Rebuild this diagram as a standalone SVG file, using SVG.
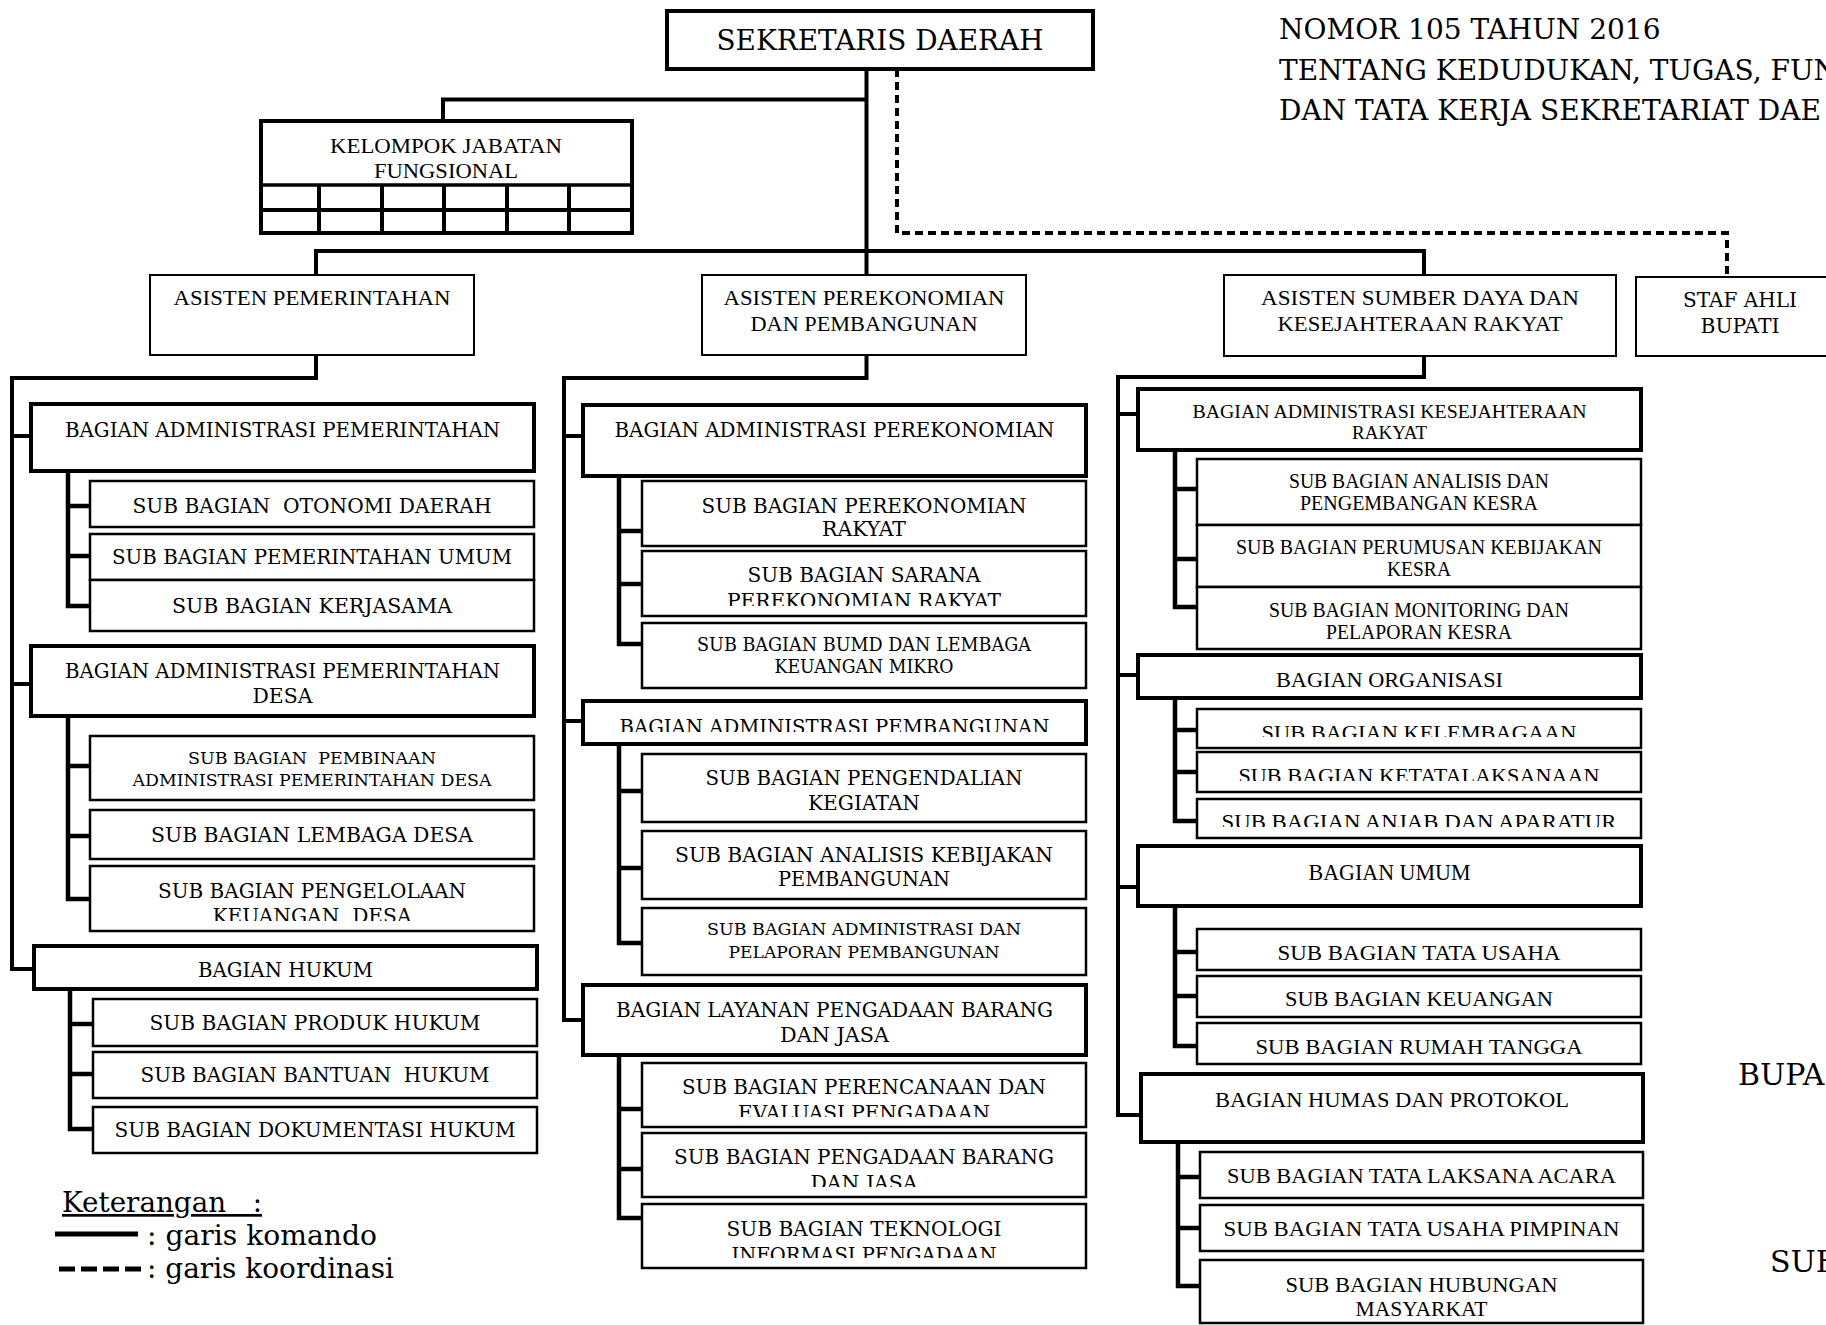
<svg xmlns="http://www.w3.org/2000/svg" width="1826" height="1325" viewBox="0 0 1826 1325">
<style>
.bg{fill:#fff}
.bk{fill:#fff;stroke:#000;stroke-width:4}
.sb{fill:#fff;stroke:#000;stroke-width:2.5}
.as{fill:#fff;stroke:#000;stroke-width:2}
.ln{fill:none;stroke:#000;stroke-width:4;stroke-linejoin:miter}
.sl{fill:none;stroke:#000;stroke-width:4.5;stroke-linejoin:miter}
.ds{fill:none;stroke:#000;stroke-width:4;stroke-dasharray:8 5}
.w{font-family:"DejaVu Serif",serif;fill:#000;text-anchor:middle}
.n{font-family:"Liberation Serif",serif;fill:#000;text-anchor:middle}
.s{text-anchor:start}
</style>
<defs>
<clipPath id="c921"><rect x="0" y="0" width="1826" height="921"/></clipPath>
<clipPath id="c606"><rect x="0" y="0" width="1826" height="606"/></clipPath>
<clipPath id="c732"><rect x="0" y="0" width="1826" height="732"/></clipPath>
<clipPath id="c1117"><rect x="0" y="0" width="1826" height="1117"/></clipPath>
<clipPath id="c1187"><rect x="0" y="0" width="1826" height="1187"/></clipPath>
<clipPath id="c1258"><rect x="0" y="0" width="1826" height="1258"/></clipPath>
<clipPath id="c737"><rect x="0" y="0" width="1826" height="737"/></clipPath>
<clipPath id="c781"><rect x="0" y="0" width="1826" height="781"/></clipPath>
<clipPath id="c827"><rect x="0" y="0" width="1826" height="827"/></clipPath>
</defs>
<rect class="bg" x="0" y="0" width="1826" height="1325"/>

<g id="connectors">
  <!-- top -->
  <polyline class="ln" points="866.5,69 866.5,275"/>
  <polyline class="ln" points="866.5,99.5 443,99.5 443,121"/>
  <polyline class="ln" points="316,275 316,251 1424,251 1424,275"/>
  <polyline class="ds" points="897,69 897,233 1727,233 1727,277"/>
  <!-- column 1 -->
  <polyline class="ln" points="316,355 316,378 12,378 12,969 34,969"/>
  <polyline class="ln" points="12,436 31,436"/>
  <polyline class="ln" points="12,684 31,684"/>
  <polyline class="sl" points="68,471 68,606 90,606"/>
  <polyline class="sl" points="68,506 90,506"/>
  <polyline class="sl" points="68,556 90,556"/>
  <polyline class="sl" points="68,716 68,899 90,899"/>
  <polyline class="sl" points="68,766 90,766"/>
  <polyline class="sl" points="68,836 90,836"/>
  <polyline class="sl" points="70,989 70,1129 93,1129"/>
  <polyline class="sl" points="70,1024 93,1024"/>
  <polyline class="sl" points="70,1074 93,1074"/>
  <!-- column 2 -->
  <polyline class="ln" points="866.5,355 866.5,378 564,378 564,1020 583,1020"/>
  <polyline class="ln" points="564,436 583,436"/>
  <polyline class="ln" points="564,721 583,721"/>
  <polyline class="sl" points="619,476 619,644 642,644"/>
  <polyline class="sl" points="619,531 642,531"/>
  <polyline class="sl" points="619,584 642,584"/>
  <polyline class="sl" points="619,744 619,943 642,943"/>
  <polyline class="sl" points="619,791 642,791"/>
  <polyline class="sl" points="619,868 642,868"/>
  <polyline class="sl" points="619,1055 619,1218 642,1218"/>
  <polyline class="sl" points="619,1109 642,1109"/>
  <polyline class="sl" points="619,1169 642,1169"/>
  <!-- column 3 -->
  <polyline class="ln" points="1424,356 1424,377 1118,377 1118,1115 1141,1115"/>
  <polyline class="ln" points="1118,414 1138,414"/>
  <polyline class="ln" points="1118,675 1138,675"/>
  <polyline class="ln" points="1118,887 1138,887"/>
  <polyline class="sl" points="1175,450 1175,607 1197,607"/>
  <polyline class="sl" points="1175,489 1197,489"/>
  <polyline class="sl" points="1175,559 1197,559"/>
  <polyline class="sl" points="1175,698 1175,821 1197,821"/>
  <polyline class="sl" points="1175,730 1197,730"/>
  <polyline class="sl" points="1175,772 1197,772"/>
  <polyline class="sl" points="1175,906 1175,1046 1197,1046"/>
  <polyline class="sl" points="1175,952 1197,952"/>
  <polyline class="sl" points="1175,996 1197,996"/>
  <polyline class="sl" points="1178,1142 1178,1286 1200,1286"/>
  <polyline class="sl" points="1178,1177 1200,1177"/>
  <polyline class="sl" points="1178,1228 1200,1228"/>
</g>

<g id="header">
  <text class="w s" x="1279" y="39" font-size="28">NOMOR 105 TAHUN 2016</text>
  <text class="w s" x="1279" y="80" font-size="28">TENTANG KEDUDUKAN, TUGAS, FUN</text>
  <text class="w s" x="1279" y="120" font-size="28">DAN TATA KERJA SEKRETARIAT DAE</text>
</g>

<g id="sekda">
  <rect class="bk" x="667" y="11" width="426" height="58"/>
  <text class="w" x="880" y="50" font-size="28" textLength="327" lengthAdjust="spacingAndGlyphs">SEKRETARIS DAERAH</text>
</g>

<g id="kelompok">
  <rect class="bk" x="261" y="121" width="371" height="112"/>
  <line x1="261" y1="185" x2="632" y2="185" stroke="#000" stroke-width="3.5"/>
  <line x1="261" y1="210" x2="632" y2="210" stroke="#000" stroke-width="4"/>
  <g stroke="#000" stroke-width="4">
    <line x1="319" y1="185" x2="319" y2="233"/>
    <line x1="382" y1="185" x2="382" y2="233"/>
    <line x1="444" y1="185" x2="444" y2="233"/>
    <line x1="507" y1="185" x2="507" y2="233"/>
    <line x1="569" y1="185" x2="569" y2="233"/>
  </g>
  <text class="n" x="446" y="153" font-size="21" textLength="232" lengthAdjust="spacingAndGlyphs">KELOMPOK JABATAN</text>
  <text class="n" x="446" y="178" font-size="21" textLength="144" lengthAdjust="spacingAndGlyphs">FUNGSIONAL</text>
</g>

<g id="asisten-pemerintahan">
  <rect class="as" x="150" y="275" width="324" height="80"/>
  <text class="n" x="312" y="305" font-size="21.5" textLength="277" lengthAdjust="spacingAndGlyphs">ASISTEN PEMERINTAHAN</text>
</g>
<g id="asisten-perekonomian">
  <rect class="as" x="702" y="275" width="324" height="80"/>
  <text class="n" x="864" y="305" font-size="21" textLength="281" lengthAdjust="spacingAndGlyphs">ASISTEN PEREKONOMIAN</text>
  <text class="n" x="864" y="331" font-size="21" textLength="227" lengthAdjust="spacingAndGlyphs">DAN PEMBANGUNAN</text>
</g>
<g id="asisten-sdkr">
  <rect class="as" x="1224" y="275" width="392" height="81"/>
  <text class="n" x="1420" y="305" font-size="21" textLength="318" lengthAdjust="spacingAndGlyphs">ASISTEN SUMBER DAYA DAN</text>
  <text class="n" x="1420" y="331" font-size="21" textLength="285" lengthAdjust="spacingAndGlyphs">KESEJAHTERAAN RAKYAT</text>
</g>
<g id="staf-ahli">
  <rect class="as" x="1636" y="277" width="230" height="79"/>
  <text class="w" x="1740" y="307" font-size="20" textLength="114" lengthAdjust="spacingAndGlyphs">STAF AHLI</text>
  <text class="w" x="1740" y="333" font-size="20" textLength="79" lengthAdjust="spacingAndGlyphs">BUPATI</text>
</g>

<!-- Column 1 -->
<g id="bag-adm-pemerintahan">
  <rect class="bk" x="31" y="404" width="503" height="67"/>
  <text class="w" x="282.5" y="437" font-size="21" textLength="435" lengthAdjust="spacingAndGlyphs">BAGIAN ADMINISTRASI PEMERINTAHAN</text>
</g>
<g id="sub-otonomi">
  <rect class="sb" x="90" y="481" width="444" height="46"/>
  <text class="w" x="312" y="513" font-size="21" textLength="359" lengthAdjust="spacingAndGlyphs" xml:space="preserve">SUB BAGIAN  OTONOMI DAERAH</text>
</g>
<g id="sub-pemum">
  <rect class="sb" x="90" y="534" width="444" height="46"/>
  <text class="w" x="312" y="564" font-size="21" textLength="400" lengthAdjust="spacingAndGlyphs">SUB BAGIAN PEMERINTAHAN UMUM</text>
</g>
<g id="sub-kerjasama">
  <rect class="sb" x="90" y="580" width="444" height="51"/>
  <text class="w" x="312" y="613" font-size="21" textLength="280" lengthAdjust="spacingAndGlyphs">SUB BAGIAN KERJASAMA</text>
</g>
<g id="bag-adm-pemdes">
  <rect class="bk" x="31" y="646" width="503" height="70"/>
  <text class="w" x="282.5" y="678" font-size="21" textLength="435" lengthAdjust="spacingAndGlyphs">BAGIAN ADMINISTRASI PEMERINTAHAN</text>
  <text class="w" x="282.5" y="703" font-size="21" textLength="60" lengthAdjust="spacingAndGlyphs">DESA</text>
</g>
<g id="sub-pembinaan">
  <rect class="sb" x="90" y="736" width="444" height="64"/>
  <text class="w" x="312" y="764" font-size="17.5" textLength="248" lengthAdjust="spacingAndGlyphs" xml:space="preserve">SUB BAGIAN  PEMBINAAN</text>
  <text class="w" x="312" y="786" font-size="17.5" textLength="359" lengthAdjust="spacingAndGlyphs">ADMINISTRASI PEMERINTAHAN DESA</text>
</g>
<g id="sub-lembaga">
  <rect class="sb" x="90" y="810" width="444" height="49"/>
  <text class="w" x="312" y="842" font-size="21" textLength="322" lengthAdjust="spacingAndGlyphs">SUB BAGIAN LEMBAGA DESA</text>
</g>
<g id="sub-pengelolaan">
  <rect class="sb" x="90" y="866" width="444" height="65"/>
  <text class="w" x="312" y="898" font-size="21" textLength="308" lengthAdjust="spacingAndGlyphs">SUB BAGIAN PENGELOLAAN</text>
  <text class="w" x="312" y="923" font-size="21" textLength="199" lengthAdjust="spacingAndGlyphs" xml:space="preserve" clip-path="url(#c921)">KEUANGAN  DESA</text>
</g>
<g id="bag-hukum">
  <rect class="bk" x="34" y="946" width="503" height="43"/>
  <text class="w" x="285.5" y="977" font-size="20" textLength="175" lengthAdjust="spacingAndGlyphs">BAGIAN HUKUM</text>
</g>
<g id="sub-produk">
  <rect class="sb" x="93" y="999" width="444" height="47"/>
  <text class="w" x="315" y="1030" font-size="20" textLength="331" lengthAdjust="spacingAndGlyphs">SUB BAGIAN PRODUK HUKUM</text>
</g>
<g id="sub-bantuan">
  <rect class="sb" x="93" y="1052" width="444" height="46"/>
  <text class="w" x="315" y="1082" font-size="20" textLength="349" lengthAdjust="spacingAndGlyphs" xml:space="preserve">SUB BAGIAN BANTUAN  HUKUM</text>
</g>
<g id="sub-dokumentasi">
  <rect class="sb" x="93" y="1107" width="444" height="46"/>
  <text class="w" x="315" y="1137" font-size="20" textLength="401" lengthAdjust="spacingAndGlyphs">SUB BAGIAN DOKUMENTASI HUKUM</text>
</g>

<!-- Column 2 -->
<g id="bag-adm-perekonomian">
  <rect class="bk" x="583" y="405" width="503" height="71"/>
  <text class="w" x="834.5" y="437" font-size="21" textLength="440" lengthAdjust="spacingAndGlyphs">BAGIAN ADMINISTRASI PEREKONOMIAN</text>
</g>
<g id="sub-perekonomian-rakyat">
  <rect class="sb" x="642" y="481" width="444" height="65"/>
  <text class="w" x="864" y="513" font-size="21" textLength="325" lengthAdjust="spacingAndGlyphs">SUB BAGIAN PEREKONOMIAN</text>
  <text class="w" x="864" y="536" font-size="21" textLength="84" lengthAdjust="spacingAndGlyphs">RAKYAT</text>
</g>
<g id="sub-sarana">
  <rect class="sb" x="642" y="551" width="444" height="65"/>
  <text class="w" x="864" y="582" font-size="21" textLength="233" lengthAdjust="spacingAndGlyphs">SUB BAGIAN SARANA</text>
  <text class="w" x="864" y="608" font-size="21" textLength="274" lengthAdjust="spacingAndGlyphs" clip-path="url(#c606)">PEREKONOMIAN RAKYAT</text>
</g>
<g id="sub-bumd">
  <rect class="sb" x="642" y="623" width="444" height="65"/>
  <text class="w" x="864" y="651" font-size="18.5" textLength="334" lengthAdjust="spacingAndGlyphs">SUB BAGIAN BUMD DAN LEMBAGA</text>
  <text class="w" x="864" y="673" font-size="18.5" textLength="179" lengthAdjust="spacingAndGlyphs">KEUANGAN MIKRO</text>
</g>
<g id="bag-adm-pembangunan">
  <rect class="bk" x="583" y="701" width="503" height="43"/>
  <text class="w" x="834.5" y="734" font-size="21" textLength="430" lengthAdjust="spacingAndGlyphs" clip-path="url(#c732)">BAGIAN ADMINISTRASI PEMBANGUNAN</text>
</g>
<g id="sub-pengendalian">
  <rect class="sb" x="642" y="754" width="444" height="68"/>
  <text class="w" x="864" y="785" font-size="21" textLength="317" lengthAdjust="spacingAndGlyphs">SUB BAGIAN PENGENDALIAN</text>
  <text class="w" x="864" y="810" font-size="21" textLength="112" lengthAdjust="spacingAndGlyphs">KEGIATAN</text>
</g>
<g id="sub-analisis-kebijakan">
  <rect class="sb" x="642" y="831" width="444" height="68"/>
  <text class="w" x="864" y="862" font-size="21" textLength="378" lengthAdjust="spacingAndGlyphs">SUB BAGIAN ANALISIS KEBIJAKAN</text>
  <text class="w" x="864" y="886" font-size="21" textLength="172" lengthAdjust="spacingAndGlyphs">PEMBANGUNAN</text>
</g>
<g id="sub-adm-pelaporan">
  <rect class="sb" x="642" y="908" width="444" height="67"/>
  <text class="w" x="864" y="935" font-size="17.5" textLength="314" lengthAdjust="spacingAndGlyphs">SUB BAGIAN ADMINISTRASI DAN</text>
  <text class="w" x="864" y="958" font-size="17.5" textLength="271" lengthAdjust="spacingAndGlyphs">PELAPORAN PEMBANGUNAN</text>
</g>
<g id="bag-layanan-pengadaan">
  <rect class="bk" x="583" y="985" width="503" height="70"/>
  <text class="w" x="834.5" y="1017" font-size="21" textLength="437" lengthAdjust="spacingAndGlyphs">BAGIAN LAYANAN PENGADAAN BARANG</text>
  <text class="w" x="834.5" y="1042" font-size="21" textLength="109" lengthAdjust="spacingAndGlyphs">DAN JASA</text>
</g>
<g id="sub-perencanaan">
  <rect class="sb" x="642" y="1063" width="444" height="64"/>
  <text class="w" x="864" y="1094" font-size="21" textLength="364" lengthAdjust="spacingAndGlyphs">SUB BAGIAN PERENCANAAN DAN</text>
  <text class="w" x="864" y="1120" font-size="21" textLength="252" lengthAdjust="spacingAndGlyphs" clip-path="url(#c1117)">EVALUASI PENGADAAN</text>
</g>
<g id="sub-pengadaan-barang">
  <rect class="sb" x="642" y="1133" width="444" height="64"/>
  <text class="w" x="864" y="1164" font-size="21" textLength="380" lengthAdjust="spacingAndGlyphs">SUB BAGIAN PENGADAAN BARANG</text>
  <text class="w" x="864" y="1190" font-size="21" textLength="107" lengthAdjust="spacingAndGlyphs" clip-path="url(#c1187)">DAN JASA</text>
</g>
<g id="sub-teknologi">
  <rect class="sb" x="642" y="1204" width="444" height="64"/>
  <text class="w" x="864" y="1236" font-size="21" textLength="275" lengthAdjust="spacingAndGlyphs">SUB BAGIAN TEKNOLOGI</text>
  <text class="w" x="864" y="1262" font-size="21" textLength="265" lengthAdjust="spacingAndGlyphs" clip-path="url(#c1258)">INFORMASI PENGADAAN</text>
</g>

<!-- Column 3 -->
<g id="bag-adm-kesra">
  <rect class="bk" x="1138" y="389" width="503" height="61"/>
  <text class="n" x="1389.5" y="417.5" font-size="19" textLength="394" lengthAdjust="spacingAndGlyphs">BAGIAN ADMINISTRASI KESEJAHTERAAN</text>
  <text class="n" x="1389.5" y="439" font-size="19" textLength="75" lengthAdjust="spacingAndGlyphs">RAKYAT</text>
</g>
<g id="sub-analisis-kesra">
  <rect class="sb" x="1197" y="459" width="444" height="66"/>
  <text class="n" x="1419" y="488" font-size="20.5" textLength="260" lengthAdjust="spacingAndGlyphs">SUB BAGIAN ANALISIS DAN</text>
  <text class="n" x="1419" y="510" font-size="20.5" textLength="238" lengthAdjust="spacingAndGlyphs">PENGEMBANGAN KESRA</text>
</g>
<g id="sub-perumusan">
  <rect class="sb" x="1197" y="525" width="444" height="62"/>
  <text class="n" x="1419" y="554" font-size="20.5" textLength="366" lengthAdjust="spacingAndGlyphs">SUB BAGIAN PERUMUSAN KEBIJAKAN</text>
  <text class="n" x="1419" y="576" font-size="20.5" textLength="64" lengthAdjust="spacingAndGlyphs">KESRA</text>
</g>
<g id="sub-monitoring">
  <rect class="sb" x="1197" y="587" width="444" height="62"/>
  <text class="n" x="1419" y="617" font-size="20.5" textLength="300" lengthAdjust="spacingAndGlyphs">SUB BAGIAN MONITORING DAN</text>
  <text class="n" x="1419" y="639" font-size="20.5" textLength="186" lengthAdjust="spacingAndGlyphs">PELAPORAN KESRA</text>
</g>
<g id="bag-organisasi">
  <rect class="bk" x="1138" y="655" width="503" height="43"/>
  <text class="n" x="1389.5" y="687" font-size="22" textLength="227" lengthAdjust="spacingAndGlyphs">BAGIAN ORGANISASI</text>
</g>
<g id="sub-kelembagaan">
  <rect class="sb" x="1197" y="709" width="444" height="39"/>
  <text class="n" x="1419" y="740" font-size="22" textLength="315" lengthAdjust="spacingAndGlyphs" clip-path="url(#c737)">SUB BAGIAN KELEMBAGAAN</text>
</g>
<g id="sub-ketatalaksanaan">
  <rect class="sb" x="1197" y="752" width="444" height="40"/>
  <text class="n" x="1419" y="783" font-size="22" textLength="361" lengthAdjust="spacingAndGlyphs" clip-path="url(#c781)">SUB BAGIAN KETATALAKSANAAN</text>
</g>
<g id="sub-anjab">
  <rect class="sb" x="1197" y="799" width="444" height="39"/>
  <text class="n" x="1419" y="829" font-size="22" textLength="395" lengthAdjust="spacingAndGlyphs" clip-path="url(#c827)">SUB BAGIAN ANJAB DAN APARATUR</text>
</g>
<g id="bag-umum">
  <rect class="bk" x="1138" y="846" width="503" height="60"/>
  <text class="n" x="1389.5" y="880" font-size="23" textLength="162" lengthAdjust="spacingAndGlyphs">BAGIAN UMUM</text>
</g>
<g id="sub-tata-usaha">
  <rect class="sb" x="1197" y="929" width="444" height="41"/>
  <text class="n" x="1419" y="960" font-size="22" textLength="283" lengthAdjust="spacingAndGlyphs">SUB BAGIAN TATA USAHA</text>
</g>
<g id="sub-keuangan">
  <rect class="sb" x="1197" y="976" width="444" height="41"/>
  <text class="n" x="1419" y="1006" font-size="22" textLength="268" lengthAdjust="spacingAndGlyphs">SUB BAGIAN KEUANGAN</text>
</g>
<g id="sub-rumah-tangga">
  <rect class="sb" x="1197" y="1023" width="444" height="41"/>
  <text class="n" x="1419" y="1054" font-size="22" textLength="327" lengthAdjust="spacingAndGlyphs">SUB BAGIAN RUMAH TANGGA</text>
</g>
<g id="bag-humas">
  <rect class="bk" x="1141" y="1074" width="502" height="68"/>
  <text class="n" x="1392" y="1107" font-size="21" textLength="354" lengthAdjust="spacingAndGlyphs">BAGIAN HUMAS DAN PROTOKOL</text>
</g>
<g id="sub-tata-laksana">
  <rect class="sb" x="1200" y="1152" width="443" height="46"/>
  <text class="n" x="1421.5" y="1183" font-size="22" textLength="389" lengthAdjust="spacingAndGlyphs">SUB BAGIAN TATA LAKSANA ACARA</text>
</g>
<g id="sub-tu-pimpinan">
  <rect class="sb" x="1200" y="1205" width="443" height="46"/>
  <text class="n" x="1421.5" y="1236" font-size="22" textLength="396" lengthAdjust="spacingAndGlyphs">SUB BAGIAN TATA USAHA PIMPINAN</text>
</g>
<g id="sub-humas-masyarakat">
  <rect class="sb" x="1200" y="1260" width="443" height="63"/>
  <text class="n" x="1421.5" y="1292" font-size="22" textLength="272" lengthAdjust="spacingAndGlyphs">SUB BAGIAN HUBUNGAN</text>
  <text class="n" x="1421.5" y="1316" font-size="22" textLength="132" lengthAdjust="spacingAndGlyphs">MASYARKAT</text>
</g>

<g id="signature">
  <text class="w s" x="1738" y="1085" font-size="30">BUPA</text>
  <text class="w s" x="1770" y="1272" font-size="30">SUH</text>
</g>

<g id="legend">
  <text class="w s" x="62" y="1212" font-size="27" textLength="200" lengthAdjust="spacingAndGlyphs" text-decoration="underline" xml:space="preserve">Keterangan   :</text>
  <line x1="55" y1="1234" x2="138" y2="1234" stroke="#000" stroke-width="5"/>
  <text class="w s" x="147" y="1245" font-size="27" textLength="230" lengthAdjust="spacingAndGlyphs">: garis komando</text>
  <line x1="59" y1="1269" x2="142" y2="1269" stroke="#000" stroke-width="5" stroke-dasharray="16 6"/>
  <text class="w s" x="147" y="1278" font-size="27" textLength="247" lengthAdjust="spacingAndGlyphs">: garis koordinasi</text>
</g>
</svg>
